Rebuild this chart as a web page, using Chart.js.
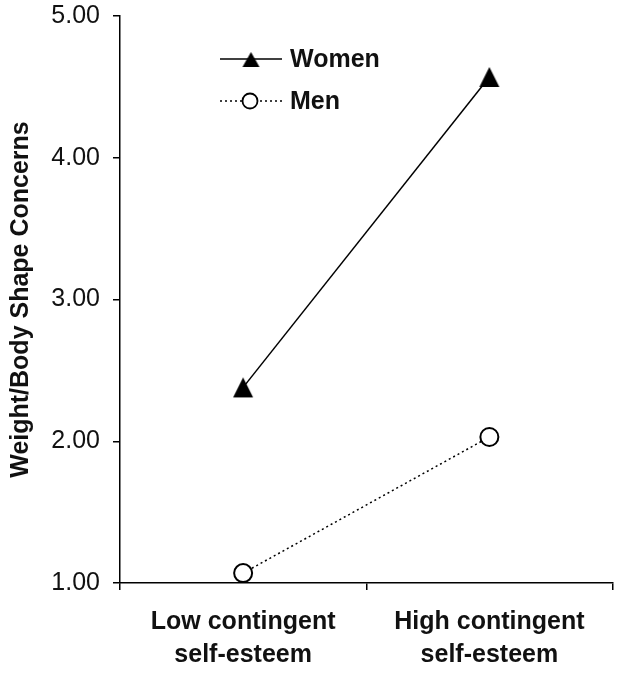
<!DOCTYPE html>
<html>
<head>
<meta charset="utf-8">
<script src="https://cdn.jsdelivr.net/npm/chart.js@4"></script>
<style>
  html, body { margin: 0; padding: 0; background: #fff; }
</style>
</head>
<body>
<canvas id="chart" width="624" height="674"></canvas>
<script>
// --- Data ---
const categories = [['Low contingent', 'self-esteem'], ['High contingent', 'self-esteem']];
const seriesNames = ['Women', 'Men'];
const women = [2.38, 4.57];
const men = [1.07, 2.03];
const yTicks = [1, 2, 3, 4, 5];
const yTitle = 'Weight/Body Shape Concerns';

const FONT = "'Liberation Sans', Arial, Helvetica, sans-serif";
const INK = '#111';
Chart.defaults.font.family = FONT;
Chart.defaults.color = INK;

// filled triangle marker, centred on its bounding box
function triangleMarker(w, h) {
    const c = document.createElement('canvas');
    c.width = w + 2; c.height = h + 2;
    const g = c.getContext('2d');
    g.beginPath();
    g.moveTo(c.width / 2, 1);
    g.lineTo(w + 1, h + 1);
    g.lineTo(1, h + 1);
    g.closePath();
    g.fillStyle = '#000';
    g.fill();
    return c;
}
const triBig = triangleMarker(20, 20);
const triSmall = triangleMarker(17, 15);

// legend drawn inside the plot, top left
const legendInside = {
    id: 'legendInside',
    afterDatasetsDraw(chart) {
        const ctx = chart.ctx;
        const rowsY = [59, 101];
        chart.data.datasets.forEach((ds, i) => {
            const y = rowsY[i];
            ctx.save();
            ctx.strokeStyle = '#000';
            ctx.lineWidth = 1.5;
            ctx.setLineDash(ds.borderDash || []);
            ctx.beginPath(); ctx.moveTo(220, y); ctx.lineTo(282, y); ctx.stroke();
            ctx.setLineDash([]);
            if (i === 0) {
                ctx.drawImage(triSmall, 251 - triSmall.width / 2, y - 7 - 1);
            } else {
                ctx.beginPath();
                ctx.arc(250, y, 7.5, 0, Math.PI * 2);
                ctx.fillStyle = '#fff'; ctx.fill();
                ctx.lineWidth = 1.8; ctx.strokeStyle = '#000'; ctx.stroke();
            }
            ctx.fillStyle = INK;
            ctx.font = 'bold 25px ' + FONT;
            ctx.textBaseline = 'middle';
            ctx.textAlign = 'left';
            ctx.fillText(ds.label, 290, y + 1);
            ctx.restore();
        });
    }
};

new Chart(document.getElementById('chart').getContext('2d'), {
    type: 'line',
    data: {
        labels: categories,
        datasets: [
            { label: seriesNames[0], data: women, borderColor: '#000', borderWidth: 1.5, tension: 0, fill: false, clip: false,
              pointStyle: triBig, pointRadius: 10 },
            { label: seriesNames[1], data: men, borderColor: '#000', borderWidth: 1.5, borderDash: [2, 3], tension: 0, fill: false, clip: false,
              pointStyle: 'circle', pointRadius: 9, pointBackgroundColor: '#fff', pointBorderColor: '#000', pointBorderWidth: 2 }
        ]
    },
    options: {
        responsive: false,
        animation: false,
        layout: { padding: { top: 16, right: 9, left: 0, bottom: 0 } },
        plugins: { legend: { display: false }, tooltip: { enabled: false } },
        scales: {
            x: {
                type: 'category',
                offset: true,
                grid: { drawOnChartArea: false, offset: true, tickLength: 7, color: '#000', lineWidth: 1.5 },
                border: { color: '#000', width: 1.5 },
                ticks: { color: INK, font: { size: 25, weight: 'bold', lineHeight: 1.3 }, padding: 16, maxRotation: 0, autoSkip: false },
                afterFit(s) { s.height = 91; s.paddingLeft = 0; s.paddingRight = 0; }
            },
            y: {
                min: 1, max: 5,
                afterBuildTicks(s) { s.ticks = yTicks.map(v => ({ value: v })); },
                grid: { drawOnChartArea: false, tickLength: 7, color: '#000', lineWidth: 1.5 },
                border: { color: '#000', width: 1.5 },
                ticks: { color: INK, font: { size: 25 }, padding: 13, callback: v => Number(v).toFixed(2) },
                title: { display: true, text: yTitle, color: INK, font: { size: 25, weight: 'bold' }, padding: { top: 6, bottom: 0 } },
                afterFit(s) { s.width = 120; s.paddingTop = 0; s.paddingBottom = 0; }
            }
        }
    },
    plugins: [legendInside]
});
</script>
</body>
</html>
